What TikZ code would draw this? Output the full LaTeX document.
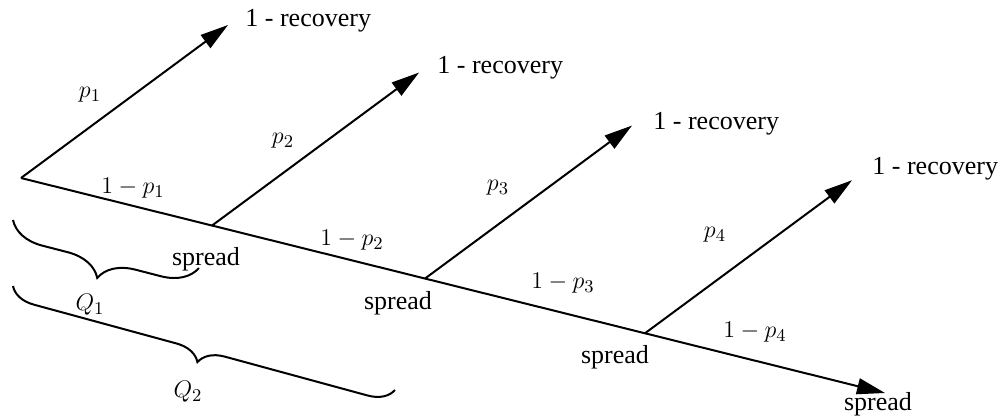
\documentclass[tikz,border=0pt]{standalone}
\usepackage{fontspec}
\setmainfont{Liberation Serif}
\newfontfamily\timesfont{Liberation Serif}
\usetikzlibrary{arrows.meta,decorations.pathreplacing,calc}
\begin{document}
\begin{tikzpicture}[x=0.5pt,y=-0.5pt,
  edge/.style={line width=1pt},
  arr/.style={edge,-{Triangle[length=14pt,width=8pt]}},
  txt/.style={font=\timesfont\fontsize{13}{15}\selectfont,inner sep=0pt},
  lab/.style={font=\fontsize{13}{15}\selectfont,inner sep=0pt},
  brc/.style={line width=1pt,decorate,decoration={brace,mirror,amplitude=#1}}]
\useasboundingbox (0,0) rectangle (1004,418);
% main line
\coordinate (O) at (21,178);
\coordinate (E) at (885,393);
\coordinate (B1) at ($(O)!0.2211!(E)$);
\coordinate (B2) at ($(O)!0.4676!(E)$);
\coordinate (B3) at ($(O)!0.7222!(E)$);
\coordinate (T0) at ($(O)+(207,-153)$);
\coordinate (T1) at ($(B1)+(207,-153)$);
\coordinate (T2) at ($(B2)+(207,-153)$);
\coordinate (T3) at ($(B3)+(207,-153)$);
\draw[arr] (O) -- (E);
\draw[arr] (O) -- (T0);
\draw[arr] (B1) -- (T1);
\draw[arr] (B2) -- (T2);
\draw[arr] (B3) -- (T3);
% recovery labels
\node[txt,anchor=west] (r1) at (245,21) {1 - recovery};
\node[txt,anchor=west] (r2) at (437,68) {1 - recovery};
\node[txt,anchor=west] (r3) at (653,124) {1 - recovery};
\node[txt,anchor=west] (r4) at (872,169) {1 - recovery};
% spread labels
\node[txt] (s1) at (206,259) {spread};
\node[txt] (s2) at (398,303) {spread};
\node[txt] (s3) at (615,357) {spread};
\node[txt] (s4) at (878,404) {spread};
% probabilities
\node[lab] (p1) at (90,95) {$p_1$};
\node[lab] (p2) at (283,141) {$p_2$};
\node[lab] (p3) at (498,188) {$p_3$};
\node[lab] (p4) at (715,235) {$p_4$};
\node[lab] (n1) at (133,188) {$1-p_1$};
\node[lab] (n2) at (352,240) {$1-p_2$};
\node[lab] (n3) at (563,283) {$1-p_3$};
\node[lab] (n4) at (755,332) {$1-p_4$};
% braces
\coordinate (a1) at (13,220);
\coordinate (b1) at (199,268);
\coordinate (a2) at (13,286);
\coordinate (b2) at (395,390);
\draw[brc=17.5pt] (a1) -- (b1);
\draw[brc=12.5pt] (a2) -- (b2);
\node[lab] (Q1) at (90,305) {$Q_1$};
\node[lab] (Q2) at (188,392) {$Q_2$};
\end{tikzpicture}
\end{document}
